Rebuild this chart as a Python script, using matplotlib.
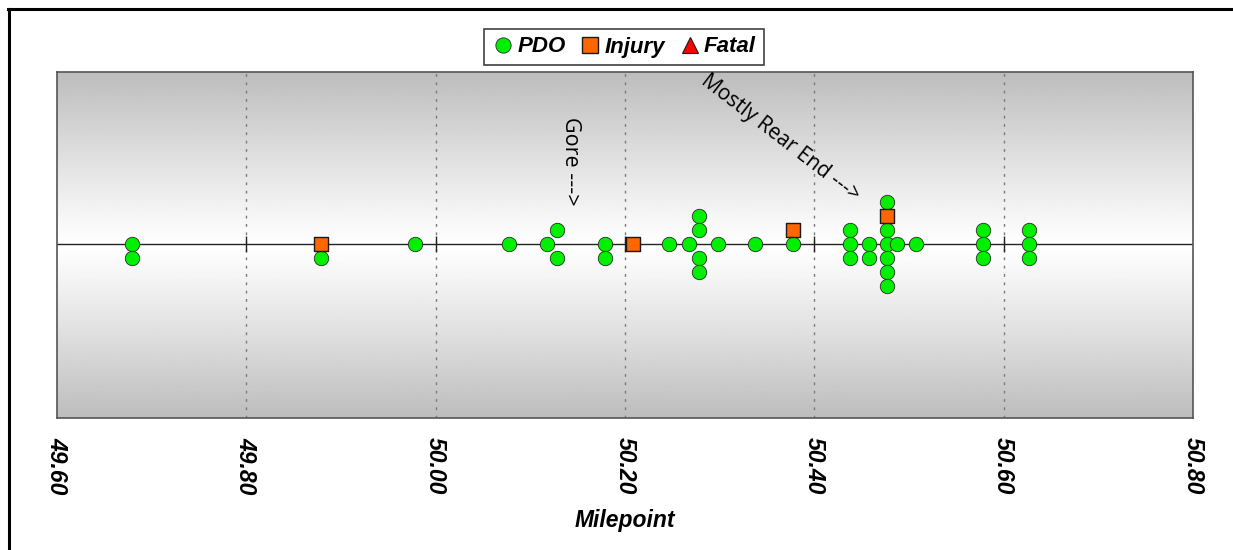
import numpy as np
import matplotlib
matplotlib.use("Agg")
import matplotlib.pyplot as plt
from matplotlib.lines import Line2D

# ---- data ----
pdo_milepoint = [49.679, 49.679, 49.879, 49.978, 50.077, 50.118, 50.128, 50.128,
                 50.179, 50.179, 50.247, 50.268, 50.278, 50.278, 50.278, 50.278,
                 50.298, 50.337, 50.377, 50.438, 50.438, 50.438, 50.458, 50.458,
                 50.477, 50.477, 50.477, 50.477, 50.477, 50.477, 50.487, 50.507,
                 50.578, 50.578, 50.578, 50.627, 50.627, 50.627]
pdo_stack = [0, -1, -1, 0, 0, 0, 1, -1,
             0, -1, 0, 0, 2, 1, -1, -2,
             0, 0, 0, 1, 0, -1, 0, -1,
             3, 1, 0, -1, -2, -3, 0, 0,
             1, 0, -1, 1, 0, -1]
injury_milepoint = [49.879, 50.208, 50.377, 50.477]
injury_stack = [0, 0, 1, 2]
fatal_milepoint = []
fatal_stack = []

x_ticks = [49.60, 49.80, 50.00, 50.20, 50.40, 50.60, 50.80]
x_label = "Milepoint"
legend_labels = ["PDO", "Injury", "Fatal"]
annot_gore = "Gore --->"
annot_rear = "Mostly Rear End --->"

# ---- figure ----
W, H = 1233, 550
fig = plt.figure(figsize=(W / 100, H / 100), dpi=100)
fig.patch.set_facecolor("white")

ax = fig.add_axes([57 / W, 1 - 418 / H, (1193 - 57) / W, (418 - 72) / H])
ax.set_xlim(x_ticks[0], x_ticks[-1])
ax.set_ylim(-12.4, 12.3)

# gradient background (gray -> white at centre -> gray)
yy = np.linspace(-1, 1, 400)
grad = 0.74 + (1 - 0.74) * (1 - np.abs(yy) ** 1.1)
grad = np.clip(grad, 0, 1)
img = np.repeat(grad[:, None], 2, axis=1)
ax.imshow(img, cmap="gray", vmin=0, vmax=1, aspect="auto",
          extent=[x_ticks[0], x_ticks[-1], -12.4, 12.3], origin="lower",
          zorder=0, interpolation="bilinear")

# grid lines
for t in x_ticks[1:-1]:
    ax.axvline(t, color="#7a7a7a", lw=1.0, ls=(0, (2, 4)), zorder=1)

# centre line with small tick marks
ax.axhline(0, color="#222222", lw=1.0, zorder=2)
ax.plot(x_ticks[1:-1], [0] * len(x_ticks[1:-1]), ls="none", marker="|",
        ms=11, mew=1.0, color="#222222", zorder=2)

# markers
ax.scatter(pdo_milepoint, pdo_stack, s=108, marker="o", c="#00f000",
           edgecolors="#2a2a2a", linewidths=0.6, zorder=4)
ax.scatter(injury_milepoint, injury_stack, s=115, marker="s", c="#ff6600",
           edgecolors="#1a1a1a", linewidths=1.0, zorder=5)
if fatal_milepoint:
    ax.scatter(fatal_milepoint, fatal_stack, s=110, marker="^", c="#ff0000",
               edgecolors="#1a1a1a", linewidths=0.8, zorder=5)

# axes styling
ax.set_yticks([])
ax.set_xticks(x_ticks)
ax.set_xticklabels([f"{t:.2f}" for t in x_ticks], rotation=270,
                   fontfamily="Liberation Sans", fontweight="bold",
                   fontstyle="italic", fontsize=16.5)
ax.tick_params(axis="x", length=0, pad=14)
for lab in ax.get_xticklabels():
    lab.set_verticalalignment("top")
    lab.set_horizontalalignment("center")
for s in ax.spines.values():
    s.set_color("#555555")
    s.set_linewidth(1.2)
ax.set_xlabel(x_label, fontfamily="Liberation Sans", fontweight="bold",
              fontstyle="italic", fontsize=16.5, labelpad=10)

# annotations
ax.text(50.142, 5.95, annot_gore, rotation=270, ha="center", va="center",
        fontfamily="Open Sans", fontsize=15.5, zorder=6)
ax.text(50.364, 7.6, annot_rear, rotation=-37.7, ha="center", va="center",
        rotation_mode="anchor", fontfamily="Open Sans", fontsize=15, zorder=6)

# legend
handles = [
    Line2D([], [], ls="none", marker="o", ms=11, mfc="#00f000", mec="#2a2a2a", mew=0.6),
    Line2D([], [], ls="none", marker="s", ms=11, mfc="#ff6600", mec="#1a1a1a", mew=1.0),
    Line2D([], [], ls="none", marker="^", ms=12, mfc="#ff0000", mec="#1a1a1a", mew=0.8),
]
leg = fig.legend(handles, legend_labels, loc="center", bbox_to_anchor=(624 / W, 1 - 47 / H),
                 ncol=3, frameon=True, fancybox=False, handletextpad=0.15,
                 columnspacing=0.6, handlelength=1.0, borderpad=0.35,
                 prop={"family": "Liberation Sans", "weight": "bold",
                       "style": "italic", "size": 16})
leg.get_frame().set_edgecolor("#111111")
leg.get_frame().set_linewidth(1.2)

# outer frame (left and top edges)
fig.add_artist(Line2D([8.5 / W, 8.5 / W], [0, 1 - 9 / H], color="black", lw=2.2,
                      transform=fig.transFigure))
fig.add_artist(Line2D([7.5 / W, 1], [1 - 9 / H, 1 - 9 / H], color="black", lw=2.2,
                      transform=fig.transFigure))

fig.savefig("out.png", dpi=100)
